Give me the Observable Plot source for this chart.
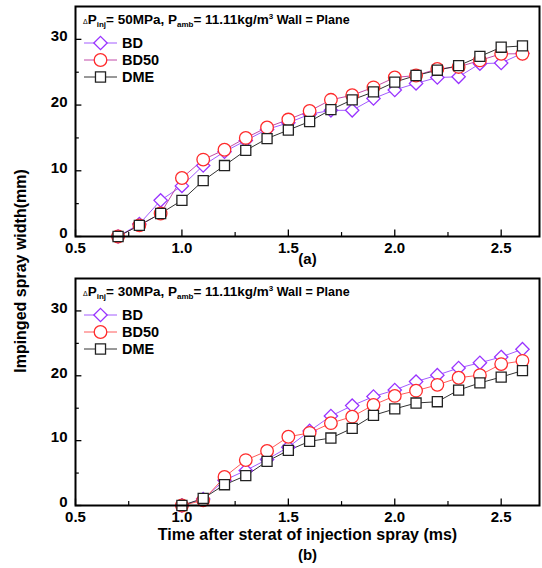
<!DOCTYPE html>
<html><head><meta charset="utf-8">
<script src="https://cdn.jsdelivr.net/npm/d3@7"></script>
<script src="https://cdn.jsdelivr.net/npm/@observablehq/plot@0.6"></script>
<style>
body{margin:0;background:#fff;}
#wrap{position:relative;width:542px;height:568px;font-family:"Liberation Sans",Arial,sans-serif;}
#top{position:absolute;left:0;top:0;}
#bot{position:absolute;left:0;top:270px;}
#ylab{position:absolute;left:21px;top:271px;transform:translate(-50%,-50%) rotate(-90deg);font-weight:bold;font-size:16px;white-space:nowrap;color:#000;}
</style></head><body>
<div id="wrap"><div id="top"></div><div id="bot"></div><div id="ylab">Impinged spray width(mm)</div></div>
<script>
// ---- data ----
const seriesNames = ["BD", "BD50", "DME"];
const xTickValues = [0.5, 1.0, 1.5, 2.0, 2.5];
const xMinorValues = [0.75, 1.25, 1.75, 2.25];
const yTickValues = [0, 10, 20, 30];
const yMinorValues = [5, 15, 25];

const timesA = [0.7, 0.8, 0.9, 1.0, 1.1, 1.2, 1.3, 1.4, 1.5, 1.6, 1.7, 1.8, 1.9, 2.0, 2.1, 2.2, 2.3, 2.4, 2.5, 2.6];
const bdA    = [0, 1.9, 5.5, 7.7, 10.8, 12.9, 14.6, 16.3, 17.3, 18.6, 19.2, 19.2, 21.0, 22.3, 23.3, 24.2, 24.3, 26.3, 26.4, 27.9];
const bd50A  = [0, 1.7, 3.5, 8.9, 11.7, 13.2, 15.0, 16.6, 17.8, 19.1, 20.8, 21.5, 22.7, 24.2, 24.5, 25.5, 25.8, 26.8, 27.8, 27.8];
const dmeA   = [0, 1.7, 3.5, 5.5, 8.5, 10.8, 13.1, 14.9, 16.2, 17.5, 19.3, 20.8, 22.0, 23.5, 24.5, 25.3, 26.0, 27.4, 28.8, 29.0];

const timesB = [1.0, 1.1, 1.2, 1.3, 1.4, 1.5, 1.6, 1.7, 1.8, 1.9, 2.0, 2.1, 2.2, 2.3, 2.4, 2.5, 2.6];
const bdB    = [0, 1.0, 3.9, 5.4, 7.1, 9.0, 11.5, 13.8, 15.4, 16.8, 17.8, 19.1, 20.1, 21.2, 22.0, 22.9, 24.1];
const bd50B  = [0, 0.8, 4.4, 7.0, 8.4, 10.6, 11.2, 12.7, 13.7, 15.5, 16.9, 17.7, 18.6, 19.7, 20.1, 21.8, 22.3];
const dmeB   = [0, 1.1, 3.2, 4.6, 6.8, 8.5, 9.9, 10.4, 11.9, 13.9, 14.9, 15.8, 16.0, 17.8, 18.9, 19.8, 20.8];

const pressures = ["50MPa", "30MPa"];
const panelLabels = ["(a)", "(b)"];
const xLabel = "Time after sterat of injection spray (ms)";

// ---- styles ----
const markerColor = {BD: "#9933ff", BD50: "#ff2b2b", DME: "#222222"};
const lineColorA = {BD: "#a35cff", BD50: "#c24aa8", DME: "#333333"};
const lineColorB = {BD: "#a35cff", BD50: "#ff5a5a", DME: "#333333"};
const symbolOf = {BD: "diamond2", BD50: "circle", DME: "square2"};
const rOf = {BD: 6, BD50: 6.3, DME: 6.4};
const FONT = "'Liberation Sans', Arial, sans-serif";

function panel(el, cfg) {
  const {times, series, lineColor, height, marginTop, marginBottom, pressure, labels} = cfg;
  const marks = [];
  // ticks (inward)
  marks.push(Plot.ruleX(xTickValues, {x: d => d, y1: 0, y2: 1.0, stroke: "#000", strokeWidth: 1.3}));
  marks.push(Plot.ruleX(xMinorValues, {x: d => d, y1: 0, y2: 0.6, stroke: "#000", strokeWidth: 1.2}));
  marks.push(Plot.ruleY(yTickValues, {y: d => d, x1: 0.5, x2: 0.53, stroke: "#000", strokeWidth: 1.3}));
  marks.push(Plot.ruleY(yMinorValues, {y: d => d, x1: 0.5, x2: 0.518, stroke: "#000", strokeWidth: 1.2}));
  marks.push(Plot.axisX({ticks: xTickValues, tickFormat: d => d.toFixed(1), tickSize: 0, tickPadding: 6, label: null, fontSize: 15, fontWeight: "bold"}));
  marks.push(Plot.axisY({ticks: yTickValues, tickFormat: d => String(d), tickSize: 0, tickPadding: 8, dy: -3, label: null, fontSize: 15, fontWeight: "bold"}));
  seriesNames.forEach((s, i) => {
    const rows = times.map((t, j) => ({t, v: series[i][j]}));
    marks.push(Plot.line(rows, {x: "t", y: "v", stroke: lineColor[s], strokeWidth: 1}));
  });
  seriesNames.forEach((s, i) => {
    const rows = times.map((t, j) => ({t, v: series[i][j]}));
    marks.push(Plot.dot(rows, {x: "t", y: "v", symbol: symbolOf[s], r: rOf[s], stroke: markerColor[s], fill: "white", strokeWidth: 1.3}));
  });
  marks.push(Plot.frame({stroke: "#000", strokeWidth: 2}));
  labels.forEach(([txt, dy, fs]) => {
    marks.push(Plot.text([txt], {frameAnchor: "bottom", dy, fontSize: fs, fontWeight: "bold", fill: "#000"}));
  });
  const plot = Plot.plot({
    width: 542, height, marginLeft: 75, marginRight: 3, marginTop, marginBottom,
    x: {domain: [0.5, 2.68]},
    y: {domain: [0, 35]},
    style: {fontFamily: FONT, color: "#000", background: "white", overflow: "visible"},
    marks
  });
  el.appendChild(plot);
  const svg = d3.select(plot);
  // title
  const t = svg.append("text").attr("x", 83).attr("y", marginTop + 18).attr("text-anchor", "start")
    .attr("font-family", FONT).attr("font-weight", "bold").attr("font-size", 13.5).attr("fill", "#000");
  t.append("tspan").attr("font-size", 7).attr("font-weight", "normal").text("\u0394");
  t.append("tspan").text("P");
  t.append("tspan").attr("font-size", 8).attr("dy", 3).text("inj");
  t.append("tspan").attr("dy", -3).text("= " + pressure + ", P");
  t.append("tspan").attr("font-size", 8).attr("dy", 3).text("amb");
  t.append("tspan").attr("dy", -3).text("= 11.11kg/m");
  t.append("tspan").attr("font-size", 8).attr("dy", -5).text("3");
  t.append("tspan").attr("dy", 5).attr("font-size", 12.5).text(" Wall = Plane");
  // legend
  seriesNames.forEach((s, i) => {
    const y = marginTop + 37 + i * 17;
    const g = svg.append("g");
    g.append("line").attr("x1", 84).attr("x2", 117).attr("y1", y).attr("y2", y).attr("stroke", lineColor[s]).attr("stroke-width", 1);
    const sym = {BD: d3.symbolDiamond2, BD50: d3.symbolCircle, DME: d3.symbolSquare2}[s];
    g.append("path").attr("transform", `translate(100.5,${y})`)
      .attr("d", d3.symbol(sym, Math.PI * rOf[s] * rOf[s])())
      .attr("fill", "white").attr("stroke", markerColor[s]).attr("stroke-width", 1.3);
    g.append("text").attr("x", 122).attr("y", y + 5).attr("text-anchor", "start").attr("font-size", 14.5).attr("font-weight", "bold")
      .attr("font-family", FONT).attr("fill", "#000").text(s);
  });
}

panel(document.getElementById("top"), {
  times: timesA, series: [bdA, bd50A, dmeA], lineColor: lineColorA,
  height: 268, marginTop: 6, marginBottom: 32, pressure: pressures[0],
  labels: [[panelLabels[0], 27, 15]]
});
panel(document.getElementById("bot"), {
  times: timesB, series: [bdB, bd50B, dmeB], lineColor: lineColorB,
  height: 298, marginTop: 8, marginBottom: 63, pressure: pressures[1],
  labels: [[xLabel, 34, 16], [panelLabels[1], 54, 15]]
});
</script>
</body></html>
